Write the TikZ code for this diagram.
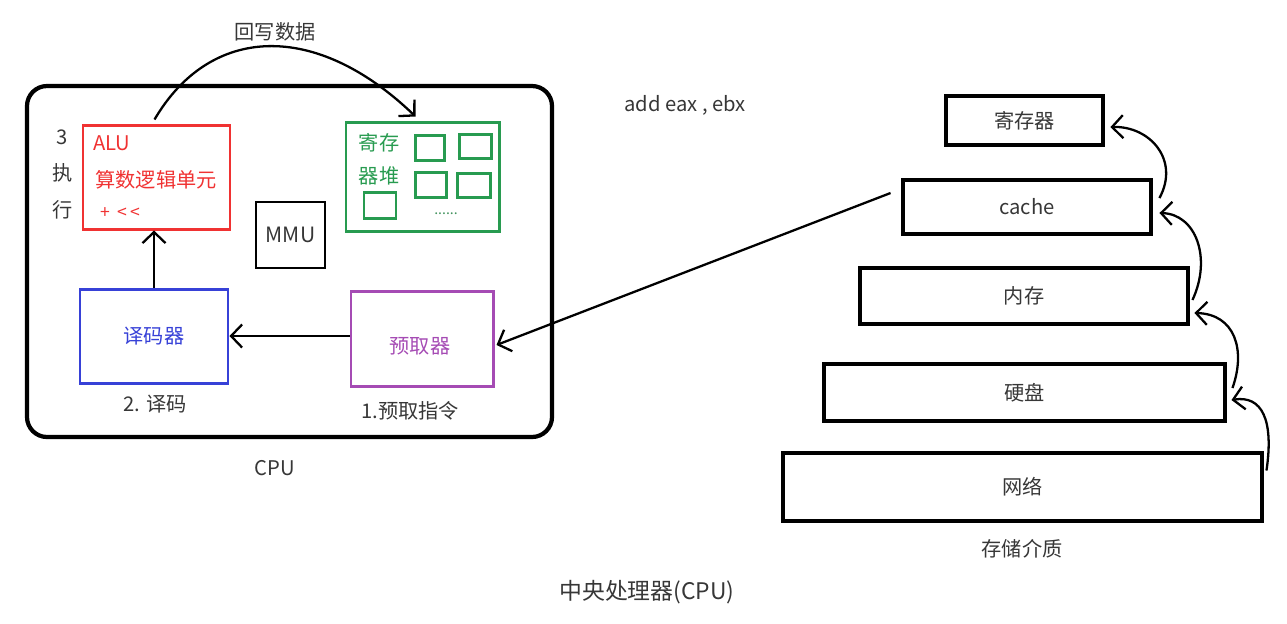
\documentclass[tikz,border=0pt]{standalone}
\usepackage{fontspec}
\setmainfont{Noto Sans CJK SC}
\usetikzlibrary{fit,arrows.meta}
\definecolor{alured}{RGB}{240,50,50}
\definecolor{reggreen}{RGB}{40,155,80}
\definecolor{decblue}{RGB}{55,65,215}
\definecolor{prepurple}{RGB}{165,75,180}
\definecolor{txt}{RGB}{55,55,55}
\tikzset{
  box/.style={draw, inner sep=0pt},
  lbl/.style={text=txt, font=\fontsize{11.5pt}{13pt}\selectfont, inner sep=0pt},
  arr/.style={line width=1.3pt, -{Straight Barb[length=2.2mm,width=4.6mm,line width=1.3pt]}},
  pyr/.style={draw, line width=2.8pt, inner sep=0pt},
}
\begin{document}
\begin{tikzpicture}[x=0.02cm,y=-0.02cm]
\useasboundingbox (0,0) rectangle (1287,623);

% CPU frame
\node[box, fit={(27,86)(552,437)}, line width=2.4pt, rounded corners=0.4cm] (cpu) {};
\node[lbl] (cpulbl) at (275,468) {CPU};

% ALU
\node[box, fit={(83,125)(230,229)}, draw=alured, line width=1.7pt] (alu) {};
\node[lbl, text=alured, anchor=west] (alut) at (93,143) {ALU};
\node[lbl, text=alured] (alun) at (156,180) {算数逻辑单元};
\node[lbl, text=alured, anchor=west] (aluop) at (100,213) {\fontsize{10pt}{12pt}\selectfont +\ \ {<}\,{<}};
\node[lbl] (n3) at (62,137) {3};
\node[lbl] (nzhi) at (63,173) {执};
\node[lbl] (nxing) at (63,210) {行};

% register file
\node[box, fit={(346,122)(499,231)}, draw=reggreen, line width=1.7pt] (reg) {};
\node[lbl, text=reggreen] (regt1) at (379,143) {寄存};
\node[lbl, text=reggreen] (regt2) at (379,176) {器堆};
\node[box, fit={(415,135)(444,160)}, draw=reggreen, line width=1.7pt] (r1) {};
\node[box, fit={(459,134)(491,158)}, draw=reggreen, line width=1.7pt] (r2) {};
\node[box, fit={(415,172)(446,197)}, draw=reggreen, line width=1.7pt] (r3) {};
\node[box, fit={(457,173)(490,197)}, draw=reggreen, line width=1.7pt] (r4) {};
\node[box, fit={(364,192)(396,218)}, draw=reggreen, line width=1.7pt] (r5) {};
\node[lbl, text=reggreen!70!gray, font=\fontsize{8pt}{9pt}\selectfont] (dots) at (446,214) {......};

% MMU
\node[box, fit={(256,202)(325,268)}, line width=1.6pt] (mmu) {};
\node[lbl, font=\fontsize{12pt}{14pt}\selectfont] (mmut) at (mmu.center) {MMU};

% decoder
\node[box, fit={(80,289)(228,383)}, draw=decblue, line width=1.7pt] (dec) {};
\node[lbl, text=decblue] (dect) at (dec.center) {译码器};
\node[lbl] (decl) at (155,404) {2. 译码};

% prefetcher
\node[box, fit={(351,291)(493,386)}, draw=prepurple, line width=1.7pt] (pre) {};
\node[lbl, text=prepurple] (pret) at (420,346) {预取器};
\node[lbl] (prel) at (410,411) {1.预取指令};

% internal arrows
\draw[arr] (dec.north) -- (dec.north |- alu.south);
\draw[arr] (pre.west |- dec.east) -- (dec.east);
\draw[arr] ([xshift=-0.04cm,yshift=0.08cm]alu.north) .. controls (210,25) and (315,20) .. ([xshift=-0.14cm,yshift=0.08cm]reg.north);
\node[lbl] (wb) at (275,32) {回写数据};

\node[lbl] (asm) at (685,105) {add eax , ebx};

% storage pyramid
\node[pyr, fit={(946,96)(1103,145)}] (p1) {};
\node[lbl] (p1t) at (p1.center) {寄存器};
\node[pyr, fit={(903,180)(1151,234)}] (p2) {};
\node[lbl] (p2t) at (p2.center) {cache};
\node[pyr, fit={(860,268)(1188,324)}] (p3) {};
\node[lbl] (p3t) at (p3.center) {内存};
\node[pyr, fit={(824,364)(1225,421)}] (p4) {};
\node[lbl] (p4t) at (p4.center) {硬盘};
\node[pyr, fit={(783,453)(1262,521)}] (p5) {};
\node[lbl] (p5t) at (p5.center) {网络};
\node[lbl] (stor) at (1022,549) {存储介质};

% cache -> prefetcher
\draw[arr] ([xshift=-0.2cm,yshift=0.28cm]p2.west) -- ([xshift=0.04cm,yshift=-0.13cm]pre.east);

% upward arrows
\draw[arr] ([xshift=0.04cm,yshift=-0.4cm]p5.north east) .. controls (1274,420) and (1262,395) .. ([xshift=0.08cm,yshift=-0.15cm]p4.east);
\draw[arr] ([xshift=0.1cm,yshift=0.09cm]p4.east) .. controls (1246,350) and (1235,314) .. ([xshift=0.08cm,yshift=-0.34cm]p3.east);
\draw[arr] ([xshift=0.04cm,yshift=-0.08cm]p3.east) .. controls (1212,258) and (1196,214) .. ([xshift=0.12cm,yshift=-0.12cm]p2.east);
\draw[arr] ([xshift=0.12cm,yshift=0.18cm]p2.east) .. controls (1180,160) and (1150,126) .. ([xshift=0.1cm,yshift=-0.13cm]p1.east);

\node[lbl, font=\fontsize{13pt}{15pt}\selectfont] (title) at (647,592) {中央处理器(CPU)};
\end{tikzpicture}
\end{document}
